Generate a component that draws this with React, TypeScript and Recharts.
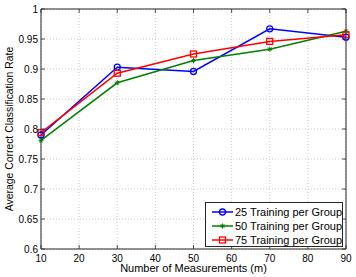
import React from "react";
import { LineChart, Line, XAxis, YAxis, CartesianGrid, ReferenceLine } from "recharts";

const measurements = [10, 30, 50, 70, 90];
const train25 = [0.79, 0.903, 0.896, 0.967, 0.953];
const train50 = [0.781, 0.877, 0.914, 0.933, 0.963];
const train75 = [0.794, 0.893, 0.925, 0.946, 0.957];

const xTicks = [10, 20, 30, 40, 50, 60, 70, 80, 90];
const yTicks = [0.6, 0.65, 0.7, 0.75, 0.8, 0.85, 0.9, 0.95, 1];
const yTickLabels = ["0.6", "0.65", "0.7", "0.75", "0.8", "0.85", "0.9", "0.95", "1"];

const seriesNames = ["25 Training per Group", "50 Training per Group", "75 Training per Group"];

const data = measurements.map((m, i) => ({
  m,
  a: train25[i],
  b: train50[i],
  c: train75[i],
}));

const FONT = "'Liberation Sans', Arial, Helvetica, sans-serif";
const AXIS = "#262626";

function CircleDot({ cx, cy, stroke }: any) {
  if (cx == null || cy == null) return null;
  return <circle cx={cx} cy={cy} r={3} fill="none" stroke={stroke} strokeWidth={1.3} />;
}

function StarDot({ cx, cy, stroke }: any) {
  if (cx == null || cy == null) return null;
  const s = 2.5;
  return (
    <g stroke={stroke} strokeWidth={1}>
      <line x1={cx - s} x2={cx + s} y1={cy} y2={cy} />
      <line x1={cx} x2={cx} y1={cy - s} y2={cy + s} />
      <line x1={cx - 1.8} x2={cx + 1.8} y1={cy - 1.8} y2={cy + 1.8} />
      <line x1={cx - 1.8} x2={cx + 1.8} y1={cy + 1.8} y2={cy - 1.8} />
    </g>
  );
}

function SquareDot({ cx, cy, stroke }: any) {
  if (cx == null || cy == null) return null;
  return <rect x={cx - 3} y={cy - 3} width={6} height={6} fill="none" stroke={stroke} strokeWidth={1.3} />;
}

function XTick({ x, y, payload }: any) {
  return (
    <g>
      <line x1={x} x2={x} y1={y} y2={y - 4} stroke={AXIS} strokeWidth={0.8} />
      <line x1={x} x2={x} y1={y - 240} y2={y - 236} stroke={AXIS} strokeWidth={0.8} />
      <text x={x} y={y + 12.5} textAnchor="middle" fontSize={10} fontFamily={FONT} fill="#000">
        {payload.value}
      </text>
    </g>
  );
}

function YTick({ x, y, payload, index }: any) {
  return (
    <g>
      <line x1={x} x2={x + 4} y1={y} y2={y} stroke={AXIS} strokeWidth={0.8} />
      <line x1={x + 305} x2={x + 301} y1={y} y2={y} stroke={AXIS} strokeWidth={0.8} />
      <text x={x - 3} y={y} dy="0.35em" textAnchor="end" fontSize={10} fontFamily={FONT} fill="#000">
        {yTickLabels[index] ?? payload.value}
      </text>
    </g>
  );
}

const colors = ["#0000ff", "#008000", "#ff0000"];
const dots = [CircleDot, StarDot, SquareDot];

export default function App() {
  return (
    <div style={{ position: "fixed", left: 0, top: 0, width: 356, height: 277, background: "#fff" }}>
      <LineChart width={356} height={277} data={data} margin={{ top: 9, right: 10, left: 0, bottom: 0 }}>
        <CartesianGrid stroke="#bdbdbd" strokeDasharray="1 2" strokeWidth={0.8} />
        <XAxis
          dataKey="m"
          type="number"
          domain={[10, 90]}
          ticks={xTicks}
          height={28}
          tickSize={0}
          tickMargin={0}
          tick={<XTick />}
          stroke={AXIS}
          interval={0}
          label={{
            content: ({ viewBox }: any) => (
              <text
                x={viewBox.x + viewBox.width / 2}
                y={viewBox.y + 23}
                textAnchor="middle"
                fontSize={11}
                fontFamily={FONT}
                fill="#000"
              >
                Number of Measurements (m)
              </text>
            ),
          }}
        />
        <YAxis
          type="number"
          domain={[0.6, 1]}
          ticks={yTicks}
          width={41}
          tickSize={0}
          tickMargin={0}
          tick={<YTick />}
          stroke={AXIS}
          interval={0}
          label={{
            content: ({ viewBox }: any) => {
              const cx = viewBox.x + 9;
              const cy = viewBox.y + viewBox.height / 2;
              return (
                <text
                  x={cx}
                  y={cy}
                  transform={`rotate(-90 ${cx} ${cy})`}
                  textAnchor="middle"
                  dominantBaseline="central"
                  fontSize={10.4}
                  fontFamily={FONT}
                  fill="#000"
                >
                  Average Correct Classification Rate
                </text>
              );
            },
          }}
        />
        <ReferenceLine y={1} stroke={AXIS} strokeWidth={1} />
        <ReferenceLine x={90} stroke={AXIS} strokeWidth={1} />
        {["a", "b", "c"].map((k, i) => {
          const Dot = dots[i];
          return (
            <Line
              key={k}
              dataKey={k}
              type="linear"
              stroke={colors[i]}
              strokeWidth={1.5}
              dot={<Dot />}
              activeDot={false}
              isAnimationActive={false}
            />
          );
        })}
      </LineChart>
      <div
        style={{
          position: "absolute",
          left: 205,
          top: 202,
          width: 138,
          height: 45,
          border: `1px solid ${AXIS}`,
          background: "#fff",
          fontFamily: FONT,
          fontSize: 11,
          lineHeight: "14px",
          paddingTop: 2,
          boxSizing: "border-box",
        }}
      >
        {seriesNames.map((name, i) => {
          const Dot = dots[i];
          return (
            <div key={name} style={{ display: "flex", alignItems: "center", height: 14 }}>
              <svg width={31} height={12} style={{ display: "block" }}>
                <line x1={6} x2={27} y1={6} y2={6} stroke={colors[i]} strokeWidth={1.5} />
                <Dot cx={16.5} cy={6} stroke={colors[i]} />
              </svg>
              <span style={{ color: "#000", whiteSpace: "nowrap" }}>{name}</span>
            </div>
          );
        })}
      </div>
    </div>
  );
}
